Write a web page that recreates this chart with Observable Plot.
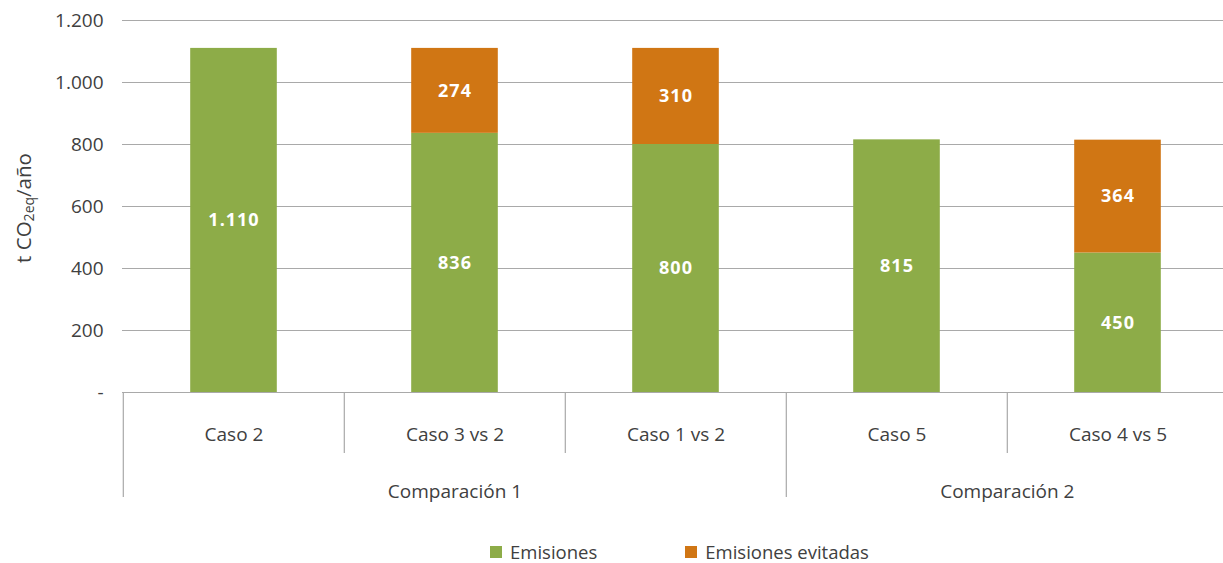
<!DOCTYPE html>
<html>
<head>
<meta charset="utf-8">
<script src="https://cdn.jsdelivr.net/npm/d3@7"></script>
<script src="https://cdn.jsdelivr.net/npm/@observablehq/plot@0.6"></script>
<style>
  body { margin: 0; background: #fff; font-family: "Open Sans", sans-serif; }
  #legend { height: 28px; line-height: 28px; margin-top: 3px; padding-left: 490px; font-size: 18.5px; color: #404040; display: flex; }
  #legend .item { display: flex; align-items: center; margin-right: 88px; }
  #legend .sw { width: 12px; height: 12px; margin-right: 8px; display: inline-block; }
</style>
</head>
<body>
<div id="chart"></div>
<div id="legend"></div>
<script>
const categories = ["Caso 2", "Caso 3 vs 2", "Caso 1 vs 2", "Caso 5", "Caso 4 vs 5"];
const emisiones = [1110, 836, 800, 815, 450];
const evitadas = [null, 274, 310, null, 364];
const groups = ["Comparación 1", "Comparación 2"];
const groupStart = [0, 3];
const groupEnd = [3, 5];
const seriesNames = ["Emisiones", "Emisiones evitadas"];
const seriesColors = ["#8DAC48", "#D07614"];
const yTicks = [0, 200, 400, 600, 800, 1000, 1200];

const W = 1223, H = 535;
const xRange = [122, 1229];
const bw = (xRange[1] - xRange[0]) / categories.length;

const rows = [];
categories.forEach((c, i) => {
  rows.push({cat: c, serie: seriesNames[0], y1: 0, y2: emisiones[i], v: emisiones[i]});
  if (evitadas[i] != null) rows.push({cat: c, serie: seriesNames[1], y1: emisiones[i], y2: emisiones[i] + evitadas[i], v: evitadas[i]});
});

const loc = d3.formatLocale({decimal: ",", thousands: ".", grouping: [3], currency: ["", ""]});
const fmt = loc.format(",d");

const seps = [];
groupStart.forEach(s => seps.push({cat: categories[s], long: true}));
categories.forEach((c, i) => { if (!groupStart.includes(i)) seps.push({cat: c, long: false}); });

const gridColor = "#A9A9A9";

const groupMarks = groups.map((g, gi) => {
  const mid = (groupStart[gi] + groupEnd[gi]) / 2;
  const idx = Math.min(Math.floor(mid), categories.length - 1);
  const dx = (mid - (idx + 0.5)) * bw;
  return Plot.text([g], {x: () => categories[idx], text: d => d, frameAnchor: "bottom", dy: 105, dx, fill: "#404040", fontSize: 19});
});

const plot = Plot.plot({
  width: W,
  height: H,
  marginLeft: 122,
  marginRight: 0,
  marginTop: 20,
  marginBottom: H - 392,
  style: {fontFamily: "Open Sans", fontSize: "19px", color: "#404040", background: "#fff"},
  x: {domain: categories, range: xRange, padding: 0, axis: null},
  y: {domain: [0, 1200], axis: null},
  color: {domain: seriesNames, range: seriesColors},
  marks: [
    Plot.ruleY(yTicks, {stroke: gridColor, strokeWidth: 1.2}),
    Plot.axisY(yTicks, {tickSize: 0, tickPadding: 19, tickFormat: d => d === 0 ? "-" : fmt(d), label: null, fontSize: 19, fill: "#404040"}),
    Plot.barY(rows, {x: "cat", y1: "y1", y2: "y2", fill: "serie", insetLeft: (bw - 87) / 2, insetRight: (bw - 87) / 2}),
    Plot.text(rows, {x: "cat", y: d => (d.y1 + d.y2) / 2, text: d => fmt(d.v), fill: "#fff", fontWeight: "bold", fontSize: 18}),
    Plot.ruleX(seps, {x: "cat", dx: -bw / 2, y1: 0, y2: d => d.long ? -339 : -197, stroke: gridColor, strokeWidth: 1.2}),
    Plot.text(categories, {x: d => d, text: d => d, frameAnchor: "bottom", dy: 48, fill: "#404040", fontSize: 19}),
    ...groupMarks
  ]
});

const svg = d3.select(plot);
svg.selectAll("text").filter(function() { return this.getAttribute("fill") === "#fff" || d3.select(this.parentNode).attr("fill") === "#fff"; }).style("letter-spacing", "1px");
const yl = svg.append("text")
  .attr("transform", "translate(31,208) rotate(-90)")
  .attr("text-anchor", "middle")
  .attr("fill", "#404040")
  .attr("font-family", "Open Sans")
  .attr("font-size", 20.5);
yl.append("tspan").text("t CO");
yl.append("tspan").attr("font-size", 14).attr("dy", 3).text("2eq");
yl.append("tspan").attr("dy", -3).text("/año");

document.getElementById("chart").appendChild(plot);

const legend = d3.select("#legend");
seriesNames.forEach((s, i) => {
  const it = legend.append("div").attr("class", "item");
  it.append("span").attr("class", "sw").style("background", seriesColors[i]);
  it.append("span").text(s);
});
</script>
</body>
</html>
